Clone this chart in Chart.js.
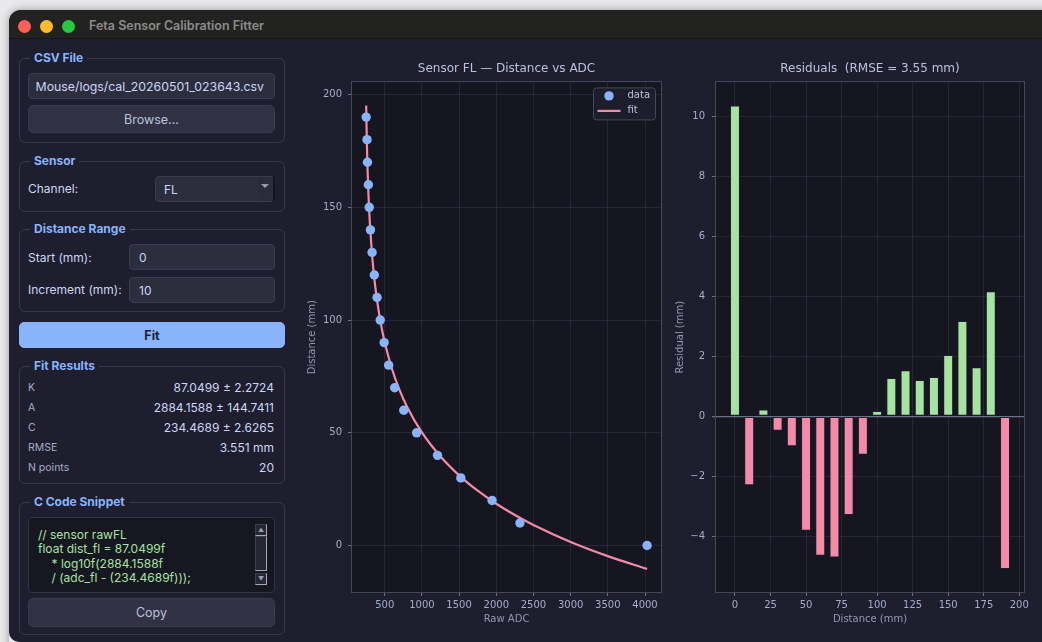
<!DOCTYPE html>
<html>
<head>
<meta charset="utf-8">
<title>Feta Sensor Calibration Fitter</title>
<script src="https://cdn.jsdelivr.net/npm/chart.js@4/dist/chart.umd.min.js"></script>
<style>
  html, body { margin: 0; padding: 0; width: 1042px; height: 642px; overflow: hidden; background: #e9e9eb; }
  body { font-family: Inter, "Noto Sans", sans-serif; }
  #shadow { position: absolute; left: 9px; top: 10px; width: 1080px; height: 680px; border-radius: 12px;
            box-shadow: 0 0 9px rgba(0,0,0,0.35); }
  #win { position: absolute; left: 0; top: 0; width: 1042px; height: 642px; background: #1e1e2e;
         clip-path: inset(10px 0px 0px 9px round 12px 0 0 10px); }
  .abs { position: absolute; }
  #titlebar { left: 9px; top: 10px; width: 1040px; height: 28px; background: #222320; border-bottom: 1px solid #151515; }
  .light { position: absolute; width: 13px; height: 13px; border-radius: 50%; top: 19.5px; }
  #wtitle { left: 89px; top: 18px; font-size: 12.5px; font-weight: 600; color: #8c8c8c; line-height: 16px; }
  .grp { position: absolute; border: 1px solid #37394b; border-radius: 6px; box-sizing: border-box; }
  .gt { position: absolute; color: #89b4fa; font-weight: 700; font-size: 12px; background: #1e1e2e;
        padding: 0 4px; line-height: 14px; height: 14px; }
  .lbl { position: absolute; color: #cdd6f4; font-size: 12px; line-height: 14px; height: 14px; }
  .inp { position: absolute; background: #2c2e3e; border: 1px solid #3a3c4f; border-radius: 4px; box-sizing: border-box;
         color: #cdd6f4; font-size: 12px; display: flex; align-items: center; overflow: hidden; white-space: nowrap; }
  .clipbox { position: absolute; left: 7px; right: 10px; top: 0; bottom: 0; overflow: hidden;
             display: flex; align-items: center; justify-content: flex-end; font-size: 12.3px; }
  .btn { position: absolute; background: #313244; border: 1px solid #383a4d; border-radius: 5px; box-sizing: border-box;
         color: #bac2de; font-size: 12.5px; display: flex; align-items: center; justify-content: center; }
  .rk { position: absolute; left: 28px; color: #a6adc8; font-size: 10.5px; line-height: 14px; height: 14px; }
  .rv { position: absolute; right: 768px; color: #cdd6f4; font-size: 12px; line-height: 14px; height: 14px; text-align: right; }
  #code { left: 28px; top: 517px; width: 247px; height: 76px; background: #171722; border: 1px solid #313244;
          border-radius: 4px; box-sizing: border-box; overflow: hidden; }
  #code pre { margin: 0; position: absolute; left: 9px; top: 10px; font-family: Inter, "Noto Sans", sans-serif;
              font-size: 12px; line-height: 14.3px; color: #a6e3a1; }
  .sb { position: absolute; background: #262736; box-sizing: border-box; border-top: 1px solid #3c3e50; border-left: 1px solid #3c3e50;
        border-right: 1px solid #a7a9b8; border-bottom: 1px solid #a7a9b8; }
  .sb span { position: absolute; left: 0; right: 0; text-align: center; font-size: 6px; color: #9a9cae; line-height: 10px; top: 0; }
  canvas { position: absolute; }
</style>
</head>
<body>
<div id="shadow"></div>
<div id="win">
  <div id="titlebar" class="abs"></div>
  <div class="light" style="left:18px;background:#fe5f57"></div>
  <div class="light" style="left:39.5px;background:#febc2e"></div>
  <div class="light" style="left:61.5px;background:#28c840"></div>
  <div id="wtitle" class="abs">Feta Sensor Calibration Fitter</div>

  <!-- CSV file -->
  <div class="grp" style="left:19px;top:58px;width:266px;height:85px"></div>
  <div class="gt" style="left:30px;top:51px">CSV File</div>
  <div class="inp" style="left:28px;top:73px;width:247px;height:26px"><div class="clipbox">/Users/dev/FetaMouse/logs/cal_20260501_023643.csv</div></div>
  <div class="btn" style="left:28px;top:105px;width:247px;height:28px">Browse...</div>

  <!-- Sensor -->
  <div class="grp" style="left:19px;top:161px;width:266px;height:51px"></div>
  <div class="gt" style="left:30px;top:154px">Sensor</div>
  <div class="lbl" style="left:28px;top:182px">Channel:</div>
  <div class="inp" style="left:155px;top:176px;width:119px;height:26px;padding-left:8px">FL</div>
  <div class="abs" style="left:258px;top:177px;width:15px;height:24px;background:#2a2c3b;border-right:2px solid #15151d"></div>
  <div class="abs" style="left:261px;top:184px;width:0;height:0;border-left:4px solid transparent;border-right:4px solid transparent;border-top:4px solid #9a9cae"></div>

  <!-- Distance range -->
  <div class="grp" style="left:19px;top:229px;width:266px;height:83px"></div>
  <div class="gt" style="left:30px;top:222px">Distance Range</div>
  <div class="lbl" style="left:28px;top:251px">Start (mm):</div>
  <div class="inp" style="left:129px;top:244px;width:146px;height:26px;padding-left:9px">0</div>
  <div class="lbl" style="left:28px;top:283px">Increment (mm):</div>
  <div class="inp" style="left:129px;top:277px;width:146px;height:26px;padding-left:9px">10</div>

  <!-- Fit -->
  <div class="btn" style="left:19px;top:322px;width:266px;height:26px;background:#89b4fa;border-color:#89b4fa;color:#1e1e2e;font-weight:700">Fit</div>

  <!-- Fit results -->
  <div class="grp" style="left:19px;top:366px;width:266px;height:118px"></div>
  <div class="gt" style="left:30px;top:359px">Fit Results</div>
  <div class="rk" style="top:381px">K</div>
  <div class="rv" style="top:381px">87.0499 ± 2.2724</div>
  <div class="rk" style="top:401px">A</div>
  <div class="rv" style="top:401px">2884.1588 ± 144.7411</div>
  <div class="rk" style="top:421px">C</div>
  <div class="rv" style="top:421px">234.4689 ± 2.6265</div>
  <div class="rk" style="top:441px">RMSE</div>
  <div class="rv" style="top:441px">3.551 mm</div>
  <div class="rk" style="top:461px">N points</div>
  <div class="rv" style="top:461px">20</div>

  <!-- C code snippet -->
  <div class="grp" style="left:19px;top:502px;width:266px;height:133px"></div>
  <div class="gt" style="left:30px;top:495px">C Code Snippet</div>
  <div id="code" class="abs"><pre>// sensor rawFL
float dist_fl = 87.0499f
    * log10f(2884.1588f
    / (adc_fl - (234.4689f)));</pre></div>
  <div class="sb" style="left:255px;top:524px;width:12px;height:12px"><span>&#9650;</span></div>
  <div class="sb" style="left:255px;top:536px;width:12px;height:35px"></div>
  <div class="sb" style="left:255px;top:573px;width:12px;height:12px"><span>&#9660;</span></div>
  <div class="btn" style="left:28px;top:598px;width:247px;height:29px">Copy</div>

  <canvas id="fitChart" width="421" height="584" style="left:296px;top:52px;width:421px;height:584px"></canvas>
  <canvas id="resChart" width="408" height="584" style="left:666px;top:52px;width:408px;height:584px"></canvas>
</div>

<script>
// Calibration run: distance steps and the raw ADC reading taken at each
const distancesMm = [0, 10, 20, 30, 40, 50, 60, 70, 80, 90, 100, 110, 120, 130, 140, 150, 160, 170, 180, 190];
const rawAdc = [4028, 2318, 1944, 1523, 1210, 929, 756, 634, 553, 492, 440, 397, 360, 330, 308, 292, 280, 268, 262, 251];

// Fitted curve d = K * log10(A / (adc - C)), sampled along the ADC range
const fitAdc = [251, 255, 260, 265, 270, 280, 290, 300, 325, 350, 375, 400, 450, 500, 600, 700, 800,
                1000, 1250, 1500, 1750, 2000, 2250, 2500, 3000, 3500, 4028];
const fitDist = [195.15, 186.95, 178.71, 171.95, 166.21, 156.84, 149.33, 143.08, 130.85, 121.64, 114.23, 108.04, 98.06, 90.18, 78.09, 68.95, 61.60,
                 50.15, 39.46, 31.14, 24.33, 18.55, 13.55, 9.13, 1.59, -4.70, -10.36];

// Residuals (measured - fitted), mm
const residualsMm = [10.37, -2.30, 0.23, -0.48, -1.00, -3.82, -4.65, -4.71, -3.29, -1.28,
                     0.18, 1.28, 1.54, 1.21, 1.31, 2.05, 3.18, 1.64, 4.17, -5.09];

// Tick values
const adcTicks = [500, 1000, 1500, 2000, 2500, 3000, 3500, 4000];
const distTicks = [0, 50, 100, 150, 200];
const resXTicks = [0, 25, 50, 75, 100, 125, 150, 175, 200];
const resYTicks = [-4, -2, 0, 2, 4, 6, 8, 10];

const C = {
  plotBg: '#161620', grid: 'rgba(108,112,134,0.2)', spine: '#45475a', tick: '#6c7086',
  tickText: '#a6adc8', axisText: '#9399b2', title: '#bac2de',
  blue: '#89b4fa', pink: '#f38ba8', green: '#a6e3a1', base: '#1e1e2e'
};

Chart.defaults.font.family = '"DejaVu Sans", sans-serif';
Chart.defaults.font.size = 10;
Chart.defaults.animation = false;

const plainNum = v => String(v).replace('-', '\u2212');
const setTicks = arr => scale => { scale.ticks = arr.map(v => ({ value: v })); };

// plot background + four-sided frame
const frame = {
  id: 'frame',
  beforeDraw(chart) {
    const { ctx, chartArea: a } = chart;
    ctx.save(); ctx.fillStyle = C.plotBg; ctx.fillRect(a.left, a.top, a.width, a.height); ctx.restore();
  },
  afterDraw(chart) {
    const { ctx, chartArea: a } = chart;
    ctx.save(); ctx.strokeStyle = C.spine; ctx.lineWidth = 1;
    ctx.strokeRect(Math.round(a.left) - 0.5, Math.round(a.top) - 0.5, Math.round(a.width) + 1, Math.round(a.height) + 1);
    ctx.restore();
  }
};

// boxed legend in the upper right corner of the plot
const cornerLegend = {
  id: 'cornerLegend',
  afterDraw(chart) {
    const { ctx, chartArea: a } = chart;
    const ds = chart.data.datasets;
    const w = 62, h = 32, x = a.right - 5.5 - w, y = a.top + 5.5;
    ctx.save();
    ctx.fillStyle = 'rgba(30,30,46,0.85)'; ctx.strokeStyle = C.spine; ctx.lineWidth = 1;
    ctx.beginPath(); ctx.roundRect(x, y, w, h, 3); ctx.fill(); ctx.stroke();
    ctx.fillStyle = ds[0].backgroundColor;
    ctx.beginPath(); ctx.arc(x + 15.5, y + 8, 4.7, 0, Math.PI * 2); ctx.fill();
    ctx.strokeStyle = ds[1].borderColor; ctx.lineWidth = 2.2;
    ctx.beginPath(); ctx.moveTo(x + 4, y + 23); ctx.lineTo(x + 27, y + 23); ctx.stroke();
    ctx.fillStyle = C.title; ctx.font = '10px "DejaVu Sans"'; ctx.textBaseline = 'middle';
    ctx.fillText(ds[0].label, x + 34, y + 8);
    ctx.fillText(ds[1].label, x + 34, y + 23);
    ctx.restore();
  }
};

function spacer(width) {
  return { position: 'right', display: true, grid: { display: false, drawTicks: false },
           ticks: { display: false }, border: { display: false }, afterFit: s => { s.width = width; } };
}

new Chart(document.getElementById('fitChart'), {
  type: 'scatter',
  data: {
    datasets: [
      { label: 'data', data: rawAdc.map((x, i) => ({ x, y: distancesMm[i] })),
        backgroundColor: C.blue, borderWidth: 0, pointRadius: 4.7, order: 1 },
      { label: 'fit', data: fitAdc.map((x, i) => ({ x, y: fitDist[i] })), showLine: true,
        borderColor: C.pink, backgroundColor: C.pink, borderWidth: 2.2, pointRadius: 0,
        cubicInterpolationMode: 'monotone', order: 2 }
    ]
  },
  options: {
    responsive: false,
    layout: { padding: 0 },
    plugins: {
      legend: { display: false }, tooltip: { enabled: false },
      title: { display: true, text: 'Sensor FL \u2014 Distance vs ADC', color: C.title,
               font: { size: 12, weight: 'normal' }, padding: { top: 10, bottom: 6 } }
    },
    scales: {
      x: { type: 'linear', min: 60, max: 4215, afterBuildTicks: setTicks(adcTicks),
           grid: { color: C.grid, tickColor: C.tick, tickLength: 4 }, border: { display: false },
           ticks: { color: C.tickText, padding: 3, maxRotation: 0, callback: v => plainNum(v) },
           title: { display: true, text: 'Raw ADC', color: C.axisText, padding: { top: 0, bottom: 11 } },
           afterFit: s => { s.height = 44; } },
      y: { type: 'linear', min: -20.6, max: 205.4, afterBuildTicks: setTicks(distTicks),
           grid: { color: C.grid, tickColor: C.tick, tickLength: 4 }, border: { display: false },
           ticks: { color: C.tickText, padding: 6, callback: v => plainNum(v) },
           title: { display: true, text: 'Distance (mm)', color: C.axisText, padding: { top: 10, bottom: 0 } },
           afterFit: s => { s.width = 56; } },
      yR: spacer(56)
    }
  },
  plugins: [frame, cornerLegend]
});

new Chart(document.getElementById('resChart'), {
  type: 'bar',
  data: {
    datasets: [{
      label: 'residual',
      data: distancesMm.map((x, i) => ({ x, y: residualsMm[i] })),
      backgroundColor: residualsMm.map(r => r >= 0 ? C.green : C.pink),
      borderColor: 'rgba(30,30,46,0.9)', borderWidth: 1, borderSkipped: false,
      barPercentage: 0.7, categoryPercentage: 1.0
    }]
  },
  options: {
    responsive: false,
    layout: { padding: 0 },
    plugins: {
      legend: { display: false }, tooltip: { enabled: false },
      title: { display: true, text: 'Residuals  (RMSE = 3.55 mm)', color: C.title,
               font: { size: 12, weight: 'normal' }, padding: { top: 10, bottom: 6 } }
    },
    scales: {
      x: { type: 'linear', min: -13.35, max: 203.35, offset: false, afterBuildTicks: setTicks(resXTicks), z: 1,
           grid: { color: C.grid, tickColor: C.tick, tickLength: 4, offset: false }, border: { display: false },
           ticks: { color: C.tickText, padding: 3, maxRotation: 0, callback: v => plainNum(v) },
           title: { display: true, text: 'Distance (mm)', color: C.axisText, padding: { top: 0, bottom: 11 } },
           afterFit: s => { s.height = 44; } },
      y: { type: 'linear', min: -5.86, max: 11.14, afterBuildTicks: setTicks(resYTicks), z: 1,
           grid: { color: ctx => (ctx.tick && ctx.tick.value === 0) ? '#6c7086' : C.grid,
                   lineWidth: ctx => (ctx.tick && ctx.tick.value === 0) ? 1.3 : 1,
                   tickColor: C.tick, tickLength: 4 }, border: { display: false },
           ticks: { color: C.tickText, padding: 7, callback: v => plainNum(v) },
           title: { display: true, text: 'Residual (mm)', color: C.axisText, padding: { top: 8, bottom: 0 } },
           afterFit: s => { s.width = 50; } },
      yR: spacer(50)
    }
  },
  plugins: [frame]
});
</script>
</body>
</html>
